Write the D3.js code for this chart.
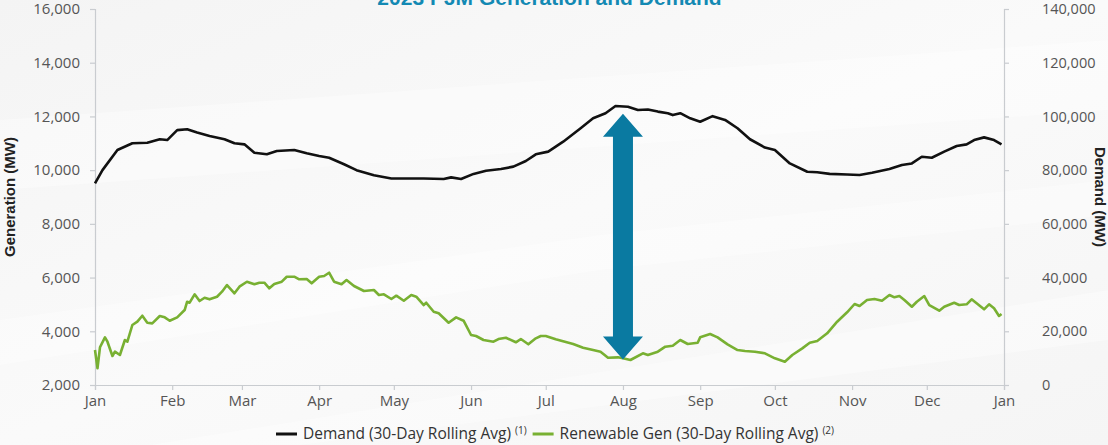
<!DOCTYPE html>
<html>
<head>
<meta charset="utf-8">
<script src="https://cdn.jsdelivr.net/npm/d3@7"></script>
<style>
  html, body { margin: 0; padding: 0; background: #f6f6f6; }
  svg { display: block; }
</style>
</head>
<body>
<svg id="chart" width="1108" height="445"></svg>
<script>
// ---------------- DATA ----------------
const title = "2023 PJM Generation and Demand";
const leftTicks = [2000, 4000, 6000, 8000, 10000, 12000, 14000, 16000];
const rightTicks = [0, 20000, 40000, 60000, 80000, 100000, 120000, 140000];
const monthTickLabels = ["Jan","Feb","Mar","Apr","May","Jun","Jul","Aug","Sep","Oct","Nov","Dec","Jan"];

// Demand (30-day rolling avg), MW — right axis
const demandDates = ["01-01","01-04","01-10","01-16","01-22","01-27","01-30","02-03","02-07","02-11","02-16","02-22","02-26",
  "03-02","03-06","03-11","03-15","03-22","03-27","04-01","04-05","04-11","04-16","04-23","04-30","05-06","05-13","05-21",
  "05-24","05-28","06-02","06-07","06-13","06-18","06-23","06-27","07-02","07-08","07-15","07-20","07-25","07-29","08-03",
  "08-07","08-11","08-15","08-19","08-21","08-24","08-28","09-01","09-06","09-11","09-16","09-21","09-27","10-01","10-07",
  "10-14","10-18","10-23","10-30","11-04","11-09","11-16","11-21","11-25","11-29","12-03","12-08","12-13","12-17","12-20",
  "12-24","12-28","12-31"];
const demandValues = [75100,80000,87500,90000,90200,91500,91200,94900,95200,94000,92700,91500,90000,
  89600,86500,85900,87100,87500,86300,85300,84600,82200,80000,78100,76900,76900,76900,76700,
  77300,76700,78600,79800,80400,81300,83400,85900,86900,90600,95600,99300,101200,103900,103600,
  102400,102600,101800,101200,100500,101200,99300,98000,100100,98700,95600,91500,88400,87500,82500,
  79400,79200,78600,78400,78200,79000,80400,81900,82500,85000,84600,86900,89000,89600,91200,
  92200,91200,89600];

// Renewable generation (30-day rolling avg), MW — left axis
const renewDates = ["01-01","01-02","01-03","01-05","01-06","01-08","01-09","01-11","01-13","01-14","01-16","01-18","01-20",
  "01-22","01-24","01-27","01-29","01-31","02-03","02-06","02-07","02-08","02-10","02-12","02-14","02-16","02-19","02-21",
  "02-23","02-26","02-28","03-03","03-06","03-08","03-10","03-12","03-14","03-17","03-19","03-22","03-24","03-27","03-29",
  "04-01","04-03","04-05","04-07","04-10","04-12","04-15","04-19","04-23","04-25","04-27","04-30","05-02","05-05","05-08",
  "05-10","05-13","05-14","05-17","05-19","05-23","05-26","05-29","06-01","06-03","06-06","06-10","06-12","06-15","06-19",
  "06-21","06-24","06-27","06-29","07-01","07-05","07-12","07-16","07-20","07-23","07-26","07-30","08-01","08-04","08-09",
  "08-11","08-15","08-18","08-21","08-24","08-27","08-31","09-01","09-05","09-08","09-12","09-16","09-19","09-23","09-27",
  "10-01","10-05","10-08","10-12","10-15","10-18","10-22","10-26","10-30","11-02","11-04","11-07","11-10","11-13","11-16",
  "11-18","11-20","11-22","11-25","11-27","11-30","12-02","12-06","12-08","12-12","12-14","12-17","12-19","12-21","12-24",
  "12-26","12-28","12-30","12-31"];
const renewValues = [3303,2622,3404,3776,3612,3080,3240,3117,3675,3612,4234,4357,4580,
  4320,4296,4569,4520,4394,4520,4792,5101,5064,5377,5127,5250,5190,5287,5474,
  5723,5414,5660,5846,5749,5809,5809,5600,5760,5846,6032,6032,5935,5946,5786,
  6032,6058,6181,5846,5749,5909,5686,5500,5537,5351,5377,5202,5325,5138,5351,
  5287,4978,5064,4729,4669,4320,4520,4394,3861,3824,3675,3612,3712,3761,3590,
  3712,3515,3738,3824,3824,3700,3526,3389,3303,3240,3017,3030,2993,2931,3180,
  3117,3240,3426,3463,3675,3526,3575,3775,3899,3775,3515,3303,3266,3240,3180,
  2993,2868,3117,3365,3575,3638,3924,4357,4707,5016,4941,5164,5202,5138,5351,
  5265,5313,5164,4915,5101,5313,4978,4766,4915,5064,4978,5004,5190,5041,4818,
  5004,4855,4569,4643];

// Arrow annotation (date, generation-scale endpoints)
const arrowDate = "08-01";
const arrowTop = 12100;
const arrowBottom = 2950;

const legendItems = [
  {label: "Demand (30-Day Rolling Avg)", sup: "(1)"},
  {label: "Renewable Gen (30-Day Rolling Avg)", sup: "(2)"}
];

// ---------------- CHART ----------------
const W = 1108, H = 445;
const m = {top: 9, right: 104, bottom: 60, left: 95};
const svg = d3.select("#chart");
const parse = s => d3.timeParse("%Y-%m-%d")("2023-" + s);

const colDemand = "#111111", colRenew = "#78b032", colTeal = "#0a7aa1";
const axisCol = "#c9ccd0", textCol = "#555555";
const font = "'Open Sans', Lato, sans-serif";

// background with soft diagonal streaks
const defs = svg.append("defs");
const bg = defs.append("linearGradient").attr("id","bg").attr("x1","0").attr("y1","0").attr("x2","1").attr("y2","1");
bg.append("stop").attr("offset","0%").attr("stop-color","#f4f4f4");
bg.append("stop").attr("offset","50%").attr("stop-color","#fafafa");
bg.append("stop").attr("offset","100%").attr("stop-color","#f5f5f5");
svg.append("rect").attr("width",W).attr("height",H).attr("fill","url(#bg)");
const streaks = [
  "M0,120 L1108,40 L1108,110 L0,190 Z",
  "M0,320 L600,235 L1108,180 L1108,215 L600,270 L0,365 Z",
  "M150,445 L1108,290 L1108,340 L300,445 Z"
];
svg.append("g").selectAll("path").data(streaks).join("path")
  .attr("d", d => d).attr("fill", "#ffffff").attr("opacity", 0.35);

const x = d3.scaleTime()
  .domain([new Date(2023,0,1), new Date(2024,0,1)])
  .range([m.left, W - m.right]);
const yL = d3.scaleLinear().domain([2000,16000]).range([H - m.bottom, m.top]);
const yR = d3.scaleLinear().domain([0,140000]).range([H - m.bottom, m.top]);

// axes
function styleAxis(g, size) {
  g.select(".domain").attr("stroke", axisCol).attr("stroke-width", 1.2);
  g.selectAll(".tick line").attr("stroke", axisCol).attr("stroke-width", 1.2);
  g.selectAll(".tick text").attr("fill", textCol).style("font-family", font).style("font-size", size);
}
const fmt = d3.format(",");
const gL = svg.append("g").attr("transform", `translate(${m.left},0)`)
  .call(d3.axisLeft(yL).tickValues(leftTicks).tickFormat(fmt).tickSizeOuter(0).tickSize(5).tickPadding(10));
styleAxis(gL, "15px");
const gR = svg.append("g").attr("transform", `translate(${W - m.right},0)`)
  .call(d3.axisRight(yR).tickValues(rightTicks).tickFormat(fmt).tickSizeOuter(0).tickSize(5).tickPadding(33));
styleAxis(gR, "14.5px");
const monthDates = d3.range(13).map(i => new Date(2023, i, 1));
const gX = svg.append("g").attr("transform", `translate(0,${H - m.bottom})`)
  .call(d3.axisBottom(x).tickValues(monthDates).tickFormat((d,i) => monthTickLabels[i]).tickSizeOuter(0).tickSize(5).tickPadding(5));
styleAxis(gX, "15px");

// axis titles
svg.append("text")
  .attr("transform", `translate(15,${(m.top + H - m.bottom)/2}) rotate(-90)`)
  .attr("text-anchor","middle").attr("fill","#222")
  .style("font-family","'Liberation Sans', Arial, sans-serif").style("font-weight","bold").style("font-size","15px")
  .text("Generation (MW)");
svg.append("text")
  .attr("transform", `translate(1095,${(m.top + H - m.bottom)/2}) rotate(90)`)
  .attr("text-anchor","middle").attr("fill","#222")
  .style("font-family","'Liberation Sans', Arial, sans-serif").style("font-weight","bold").style("font-size","15px")
  .text("Demand (MW)");

// title (partly cut off at top, as in the source image)
svg.append("text")
  .attr("x", (m.left + W - m.right)/2).attr("y", 5)
  .attr("text-anchor","middle").attr("fill", "#1389b3")
  .style("font-family","'Liberation Sans', Arial, sans-serif").style("font-weight","bold").style("font-size","21px")
  .text(title);

// lines
const demand = demandDates.map((d,i) => ({date: parse(d), v: demandValues[i]}));
const renew = renewDates.map((d,i) => ({date: parse(d), v: renewValues[i]}));
svg.append("path").datum(demand)
  .attr("fill","none").attr("stroke", colDemand).attr("stroke-width", 2.6).attr("stroke-linejoin","round")
  .attr("d", d3.line().x(d => x(d.date)).y(d => yR(d.v)));
svg.append("path").datum(renew)
  .attr("fill","none").attr("stroke", colRenew).attr("stroke-width", 2.6).attr("stroke-linejoin","round")
  .attr("d", d3.line().x(d => x(d.date)).y(d => yL(d.v)));

// double-headed arrow
const ax = x(parse(arrowDate)), at = yL(arrowTop), ab = yL(arrowBottom);
const sw = 10, hw = 20, hl = 23;
const arrowPts = [
  [ax, at], [ax + hw, at + hl], [ax + sw, at + hl], [ax + sw, ab - hl], [ax + hw, ab - hl],
  [ax, ab], [ax - hw, ab - hl], [ax - sw, ab - hl], [ax - sw, at + hl], [ax - hw, at + hl]
];
svg.append("path").attr("d", "M" + arrowPts.map(p => p.join(",")).join("L") + "Z").attr("fill", colTeal);

// legend
const lg = svg.append("g").attr("transform", "translate(0,434)");
let lx = 276;
legendItems.forEach((it, i) => {
  lg.append("line").attr("x1", lx).attr("x2", lx + 21).attr("y1", 0).attr("y2", 0)
    .attr("stroke", i === 0 ? colDemand : colRenew).attr("stroke-width", 3);
  const t = lg.append("text").attr("x", lx + 27).attr("y", 5).attr("fill", "#333")
    .style("font-family", "'Open Sans', sans-serif").style("font-size", "15.5px");
  t.append("tspan").text(it.label);
  t.append("tspan").attr("dx", 4).attr("dy", -5).style("font-size", "10px").text(it.sup);
  const w = t.node().getComputedTextLength();
  lx = lx + 27 + w + 10;
});
</script>
</body>
</html>
